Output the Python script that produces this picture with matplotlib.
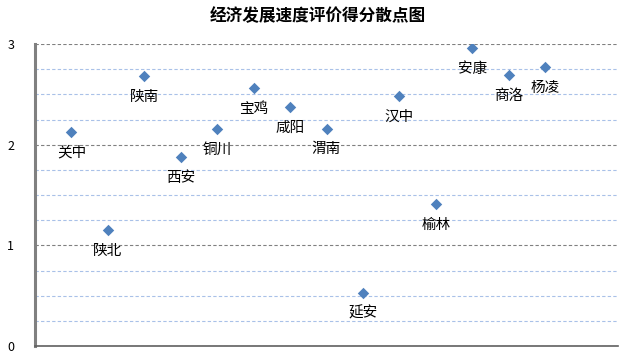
import matplotlib
matplotlib.use("Agg")
import matplotlib.pyplot as plt
from matplotlib.ticker import MultipleLocator

plt.rcParams['font.family'] = ['Noto Sans CJK SC', 'DejaVu Sans']

regions = ['关中', '陕北', '陕南', '西安', '铜川', '宝鸡', '咸阳', '渭南',
           '延安', '汉中', '榆林', '安康', '商洛', '杨凌']
scores = [2.13, 1.15, 2.68, 1.88, 2.16, 2.56, 2.37, 2.16,
          0.53, 2.48, 1.41, 2.96, 2.69, 2.77]
xs = list(range(1, len(regions) + 1))

fig = plt.figure(figsize=(6.35, 3.58), dpi=100)
ax = fig.add_axes([35/635, 12/358, (618-35)/635, (346-44)/358])

ax.set_xlim(0, 16)
ax.set_ylim(0, 3)
ax.yaxis.set_major_locator(MultipleLocator(1))
ax.yaxis.set_minor_locator(MultipleLocator(0.25))
ax.set_xticks([])
ax.grid(which='major', axis='y', color='#808080', linestyle=(0, (3, 2)), linewidth=0.8)
ax.grid(which='minor', axis='y', color='#A9C1E8', linestyle=(0, (3, 2)), linewidth=0.8)
ax.set_axisbelow(True)
ax.tick_params(axis='y', which='both', length=0, labelsize=9, pad=15)
ax.tick_params(axis='y', which='minor', labelleft=False)

for s in ['top', 'right']:
    ax.spines[s].set_visible(False)
ax.spines['left'].set_color('#808080')
ax.spines['left'].set_linewidth(2.2)
ax.spines['bottom'].set_color('#606060')
ax.spines['bottom'].set_linewidth(1.2)

ax.scatter(xs, scores, marker='D', s=34, color='#4F81BD', zorder=3, linewidths=0)

for x, y, name in zip(xs, scores, regions):
    ax.annotate(name, (x, y), xytext=(0, -15), textcoords='offset points',
                ha='center', va='center', fontsize=10.5, color='black')

fig.text(0.5, 1 - 16/358, '经济发展速度评价得分散点图', ha='center', va='center',
         fontsize=12, fontweight='bold')

fig.savefig('out.png', dpi=100)
